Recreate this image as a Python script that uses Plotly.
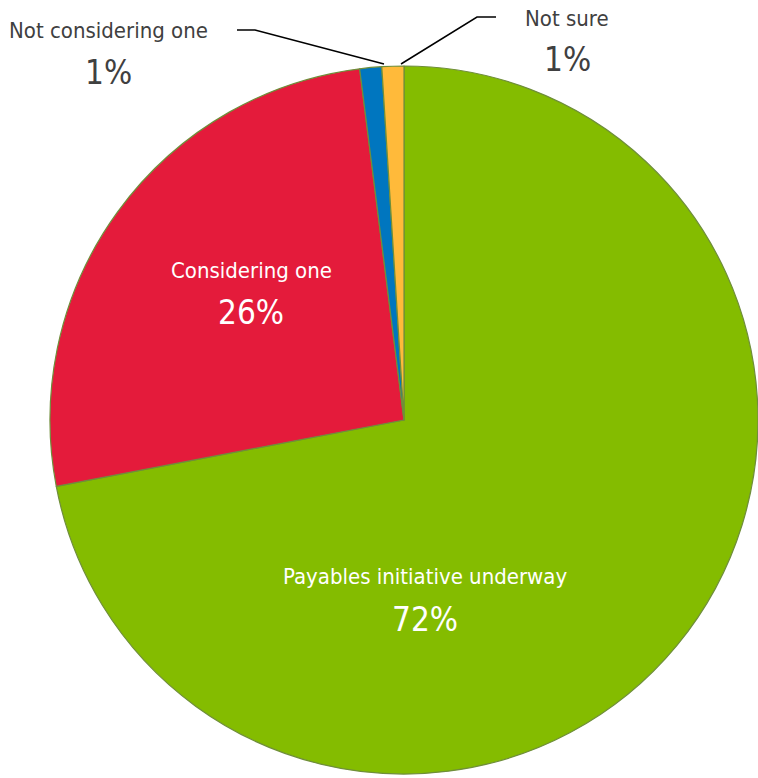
import plotly.graph_objects as go

# Survey answers and their shares (percent)
labels = ["Payables initiative underway", "Considering one", "Not considering one", "Not sure"]
values = [72, 26, 1, 1]
colors = ["#84BC00", "#E41B3B", "#0076BF", "#FFBA3A"]

W, H = 758, 778
FONT = "DejaVu Sans Condensed, Liberation Sans Narrow, sans-serif"

fig = go.Figure(
    go.Pie(
        labels=labels,
        values=values,
        sort=False,
        direction="clockwise",
        rotation=0,
        textinfo="none",
        hoverinfo="label+percent",
        marker=dict(colors=colors, line=dict(color="#6F8E3A", width=1.2)),
        domain=dict(x=[50 / W, 1.0], y=[0.0, 1 - 62 / H]),
        showlegend=False,
    )
)

total = sum(values)
pct = [f"{round(v / total * 100)}%" for v in values]

# label text placement: (center x px, name y px, percent y px, colour)
placements = [
    (425, 576, 619, "white"),
    (251, 271, 312, "white"),
    (108, 30, 72, "#404040"),
    (567, 18, 60, "#404040"),
]

annotations = []
for name, p, (cx, ny, py, col) in zip(labels, pct, placements):
    annotations.append(dict(
        x=cx / W, y=1 - ny / H, xref="paper", yref="paper",
        text=name, showarrow=False, xanchor="center", yanchor="middle",
        font=dict(family=FONT, size=22, color=col),
    ))
    annotations.append(dict(
        x=cx / W, y=1 - py / H, xref="paper", yref="paper",
        text=p, showarrow=False, xanchor="center", yanchor="middle",
        font=dict(family=FONT, size=33, color=col),
    ))


def px_path(points):
    d = "M " + " L ".join(f"{x / W} {1 - y / H}" for x, y in points)
    return d


shapes = [
    dict(type="path", xref="paper", yref="paper",
         path=px_path([(237, 30), (255, 30), (384, 64)]),
         line=dict(color="black", width=1.5)),
    dict(type="path", xref="paper", yref="paper",
         path=px_path([(496, 17), (477, 17), (401, 64)]),
         line=dict(color="black", width=1.5)),
]

fig.update_layout(
    width=W, height=H,
    margin=dict(l=0, r=0, t=0, b=0),
    paper_bgcolor="white",
    plot_bgcolor="white",
    annotations=annotations,
    shapes=shapes,
)

fig.write_html("out.html")
